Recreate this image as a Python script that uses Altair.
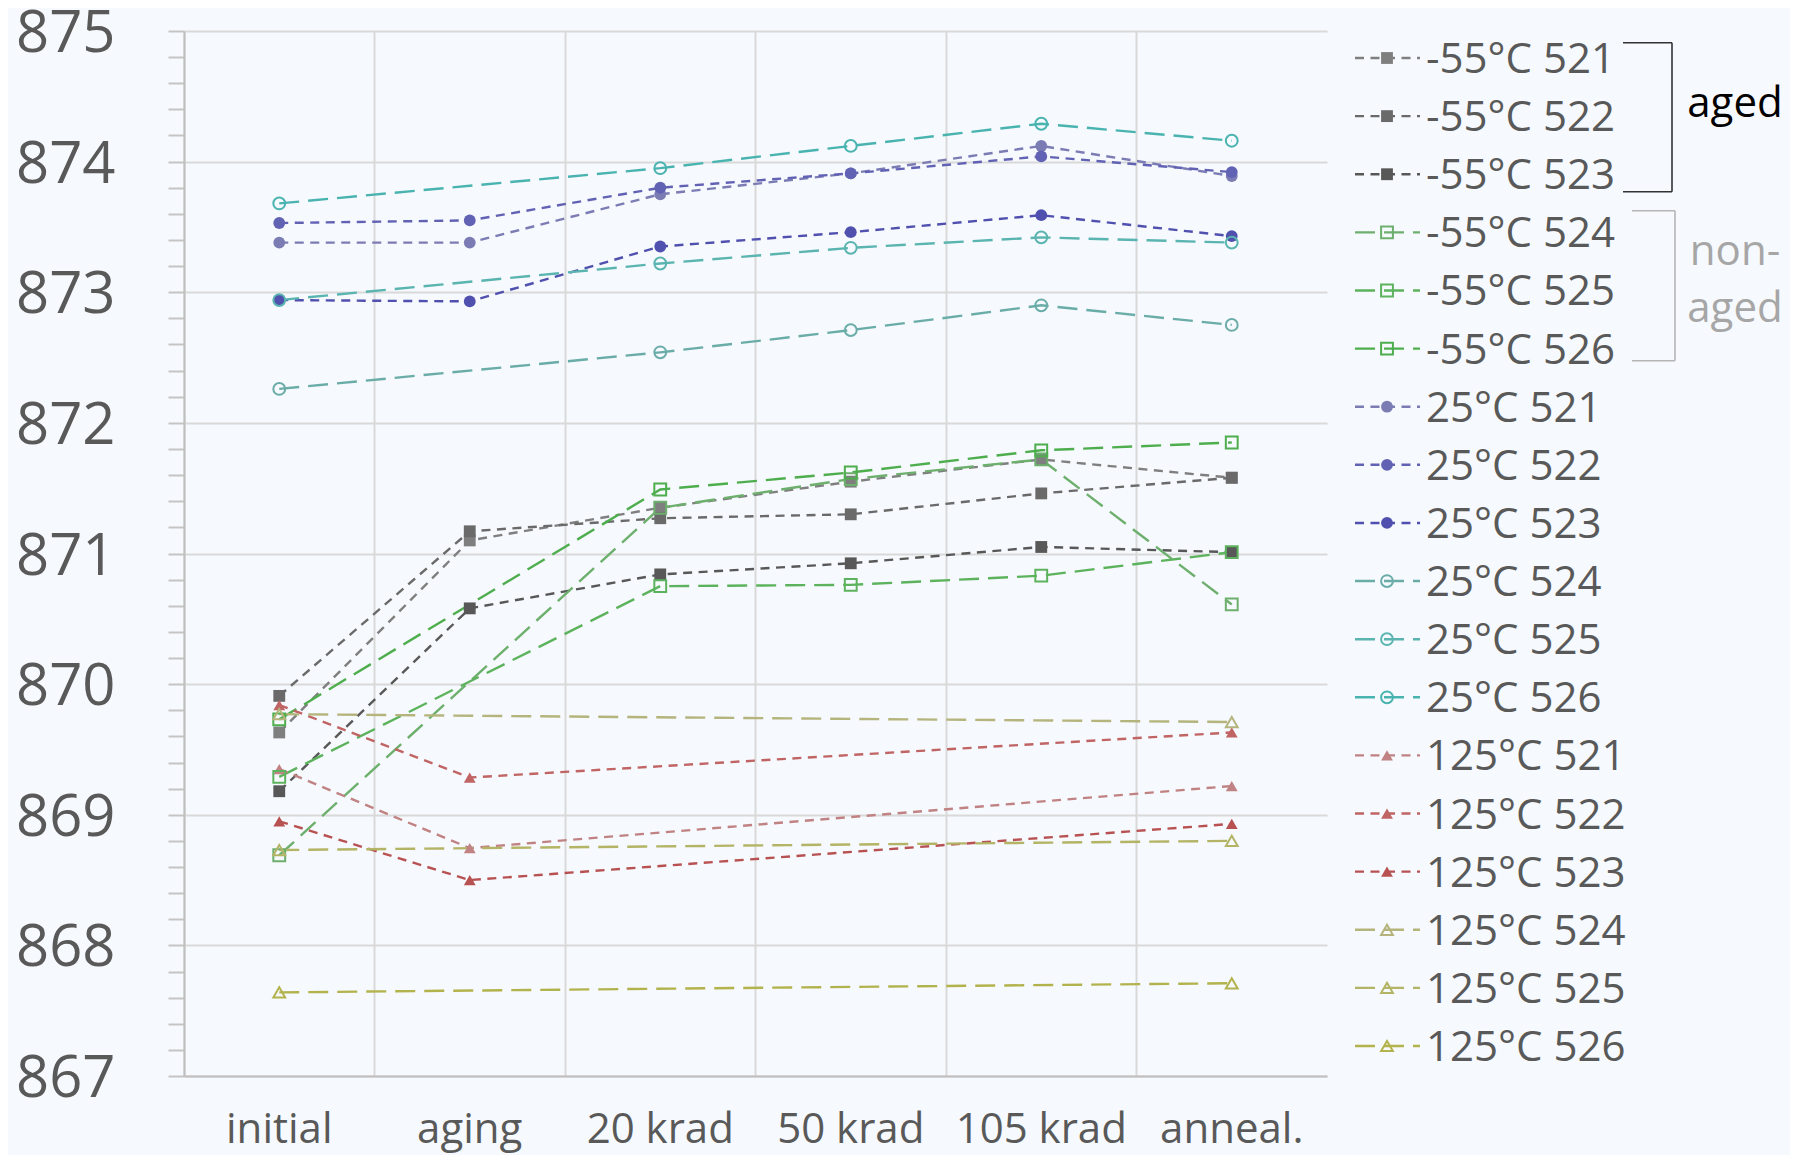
import altair as alt
import pandas as pd

FONT = "Open Sans"
TEXT = "#595959"

stages = ["initial", "aging", "20 krad", "50 krad", "105 krad", "anneal."]

series_names = [
    "-55°C 521", "-55°C 522", "-55°C 523", "-55°C 524", "-55°C 525", "-55°C 526",
    "25°C 521", "25°C 522", "25°C 523", "25°C 524", "25°C 525", "25°C 526",
    "125°C 521", "125°C 522", "125°C 523", "125°C 524", "125°C 525", "125°C 526",
]

m55_521 = [869.63, 871.10, 871.35, 871.55, 871.72, 871.58]
m55_522 = [869.91, 871.17, 871.27, 871.30, 871.46, 871.58]
m55_523 = [869.18, 870.58, 870.84, 870.925, 871.05, 871.01]
m55_524 = [868.69, None, 871.35, 871.57, 871.72, 870.61]
m55_525 = [869.29, None, 870.75, 870.76, 870.83, 871.01]
m55_526 = [869.73, None, 871.49, 871.62, 871.79, 871.85]
p25_521 = [873.38, 873.38, 873.75, 873.91, 874.12, 873.89]
p25_522 = [873.53, 873.55, 873.80, 873.91, 874.04, 873.92]
p25_523 = [872.94, 872.93, 873.35, 873.46, 873.59, 873.43]
p25_524 = [872.26, None, 872.54, 872.71, 872.90, 872.75]
p25_525 = [872.94, None, 873.22, 873.34, 873.42, 873.38]
p25_526 = [873.68, None, 873.95, 874.12, 874.29, 874.16]
p125_521 = [869.35, 868.745, None, None, None, 869.22]
p125_522 = [869.84, 869.285, None, None, None, 869.63]
p125_523 = [868.95, 868.50, None, None, None, 868.93]
p125_524 = [869.77, None, None, None, None, 869.71]
p125_525 = [868.73, None, None, None, None, 868.80]
p125_526 = [867.64, None, None, None, None, 867.71]

series_values = [
    m55_521, m55_522, m55_523, m55_524, m55_525, m55_526,
    p25_521, p25_522, p25_523, p25_524, p25_525, p25_526,
    p125_521, p125_522, p125_523, p125_524, p125_525, p125_526,
]

colors = [
    "#7f7f7f", "#6a6a6a", "#585858", "#6daf6d", "#5db35d", "#4eae4e",
    "#7c7cb4", "#6262b4", "#5050ae", "#6aaca8", "#5ab4b0", "#49b3b0",
    "#c08282", "#c06464", "#b85252", "#b4b47c", "#b4b466", "#b3b34e",
]

y_ticks = [round(867 + 0.2 * i, 1) for i in range(41)]


def is_aged(name):
    return name[-3:] in ("521", "522", "523")


def kind(name):
    if name.startswith("-55"):
        return "square"
    if name.startswith("25"):
        return "circle"
    return "triangle-up"


rows = []
for name, vals in zip(series_names, series_values):
    for i, (st, v) in enumerate(zip(stages, vals)):
        if v is not None:
            rows.append({"series": name, "stage": st, "idx": i, "value": v,
                         "aged": is_aged(name)})
df = pd.DataFrame(rows)
legend_df = pd.DataFrame({"series": series_names,
                          "aged": [is_aged(n) for n in series_names]})

shapes = [kind(n) for n in series_names]
size_map = {("square", True): 140, ("square", False): 150,
            ("circle", True): 95, ("circle", False): 115,
            ("triangle-up", True): 150, ("triangle-up", False): 160}
sizes = [size_map[(kind(n), is_aged(n))] for n in series_names]
dashes = [[9, 6.5] if is_aged(n) else [20, 9] for n in series_names]

color_enc = alt.Color("series:N", scale=alt.Scale(domain=series_names, range=colors), legend=None)
dash_enc = alt.StrokeDash("series:N", scale=alt.Scale(domain=series_names, range=dashes), legend=None)
shape_enc = alt.Shape("series:N", scale=alt.Scale(domain=series_names, range=shapes), legend=None)
size_enc = alt.Size("series:N", scale=alt.Scale(domain=series_names, range=sizes), legend=None)

x_enc = alt.X(
    "stage:N", sort=stages, title=None,
    scale=alt.Scale(type="band", domain=stages, paddingInner=0, paddingOuter=0),
    axis=alt.Axis(labelAngle=0, labelFont=FONT, labelFontSize=42, labelColor=TEXT,
                  labelPadding=33, ticks=False, tickSize=0, bandPosition=0,
                  grid=True, gridColor="#d9d9d9", gridWidth=2,
                  domainColor="#bfbfbf", domainWidth=2),
)
integer_test = "abs(datum.value - round(datum.value)) > 0.001"
y_enc = alt.Y(
    "value:Q", title=None,
    scale=alt.Scale(domain=[867, 875], nice=False, zero=False),
    axis=alt.Axis(values=y_ticks, labelFont=FONT, labelFontSize=58, labelColor=TEXT,
                  labelExpr="abs(datum.value - round(datum.value)) < 0.001 ? format(datum.value, 'd') : ''",
                  labelPadding=53, labelOffset=3.5, tickSize=16, tickColor="#c4c4c4", tickWidth=2,
                  grid=True, gridColor="#d9d9d9", gridWidth=2,
                  gridOpacity={"condition": {"test": integer_test, "value": 0}, "value": 1},
                  domainColor="#bfbfbf", domainWidth=2, labelOverlap=False),
)

base = alt.Chart(df)

lines = base.mark_line(strokeWidth=2.4).encode(
    x=x_enc, y=y_enc, color=color_enc, strokeDash=dash_enc,
    detail="series:N", order=alt.Order("idx:Q"),
)
filled_pts = base.transform_filter("datum.aged").mark_point(filled=True, opacity=1).encode(
    x=x_enc, y=y_enc, color=color_enc, shape=shape_enc, size=size_enc,
)
hollow_pts = base.transform_filter("!datum.aged").mark_point(filled=False, opacity=1, strokeWidth=2).encode(
    x=x_enc, y=y_enc, color=color_enc, shape=shape_enc, size=size_enc,
)
main = alt.layer(lines, filled_pts, hollow_pts)

# ---- legend (entries placed by a point scale over the series names) ----
leg_y = alt.Y("series:N", axis=None, title=None,
              scale=alt.Scale(type="point", domain=series_names, range=[27, 1015], padding=0))
leg_base = alt.Chart(legend_df)
leg_rules = leg_base.mark_rule(strokeWidth=2.4).encode(
    x=alt.value(1171), x2=alt.value(1236), y=leg_y, color=color_enc, strokeDash=dash_enc)
leg_filled = leg_base.transform_filter("datum.aged").mark_point(filled=True, opacity=1).encode(
    x=alt.value(1203), y=leg_y, color=color_enc, shape=shape_enc, size=size_enc)
leg_hollow = leg_base.transform_filter("!datum.aged").mark_point(filled=False, opacity=1, strokeWidth=2).encode(
    x=alt.value(1203), y=leg_y, color=color_enc, shape=shape_enc, size=size_enc)
leg_text = leg_base.mark_text(font=FONT, fontSize=42, color=TEXT, align="left",
                              baseline="middle", dy=2).encode(
    x=alt.value(1242), y=leg_y, text="series:N")
legend_layer = alt.layer(leg_rules, leg_filled, leg_hollow, leg_text)

# ---- brackets and group labels ----
one = pd.DataFrame({"k": [0]})


def hrule(x1, x2, y, c):
    return alt.Chart(one).mark_rule(color=c, strokeWidth=1.6).encode(
        x=alt.value(x1), x2=alt.value(x2), y=alt.value(y))


def vrule(x, y1, y2, c):
    return alt.Chart(one).mark_rule(color=c, strokeWidth=1.6).encode(
        x=alt.value(x), y=alt.value(y1), y2=alt.value(y2))


def label(txt, x, y, c):
    return alt.Chart(one).mark_text(text=txt, font=FONT, fontSize=42, color=c,
                                    align="center", baseline="alphabetic").encode(
        x=alt.value(x), y=alt.value(y))


AGED_C = "#333333"
NON_C = "#b5b5b5"
annotations = [
    hrule(1439, 1488, 11.7, AGED_C), vrule(1488, 11.7, 160.7, AGED_C), hrule(1439, 1488, 160.7, AGED_C),
    hrule(1448, 1491, 179.7, NON_C), vrule(1491, 179.7, 329.7, NON_C), hrule(1448, 1491, 329.7, NON_C),
    label("aged", 1551, 86, "#000000"),
    label("non-", 1551, 234, "#a6a6a6"),
    label("aged", 1551, 291, "#a6a6a6"),
]

chart = alt.layer(main, legend_layer, *annotations).resolve_scale(y="independent").properties(
    width=1143, height=1045,
    autosize=alt.AutoSizeParams(type="none"),
    padding={"left": 176, "top": 23, "right": 463, "bottom": 79},
).configure(background="#f6f9fd").configure_view(stroke=None)

chart.save("out.html", embed_options={"renderer": "svg", "actions": False})
